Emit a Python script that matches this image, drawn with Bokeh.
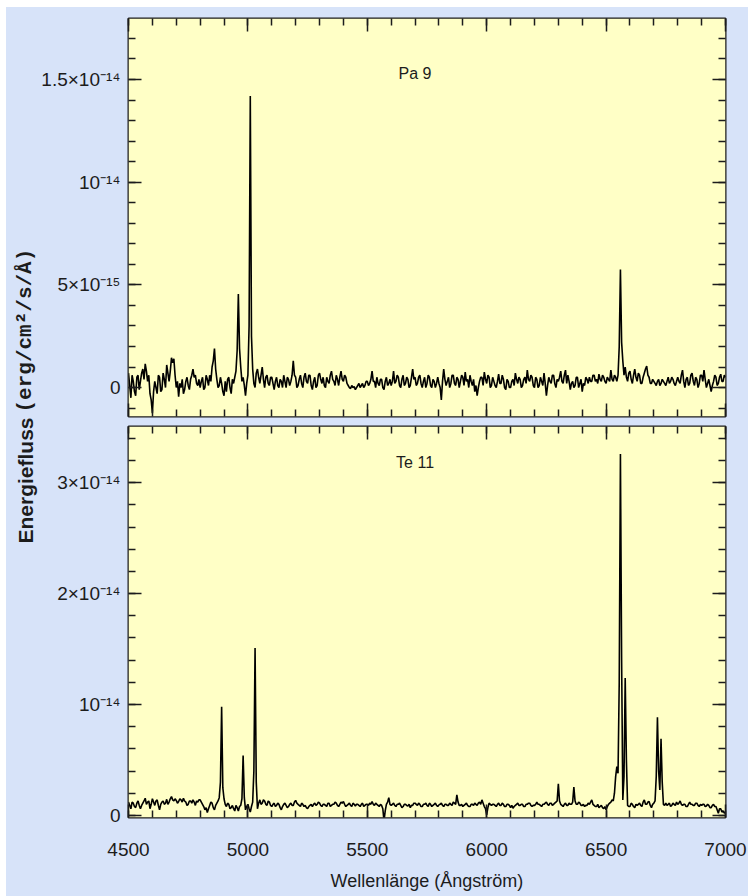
import numpy as np
from math import pi
from bokeh.plotting import figure
from bokeh.models import Range1d, FixedTicker, LinearAxis, CustomJSTickFormatter, BoxAnnotation
from bokeh.layouts import row, column
from bokeh.embed import file_html
from bokeh.resources import INLINE
from bokeh.core.properties import value

# ---------------- data ----------------
# wavelength grid (Angstrom), sampled every 5 A
wavelength = np.arange(4500, 7001, 5)

# Pa 9 spectrum, flux in units of 1e-15 erg/cm^2/s/A (one row = 100 A)
flux_pa9_e15 = [
    0.7, 0.1, -0.5, 0.6, 0.3, -0.2, -0.4, 0.5, 0.6, -0.1, 0.3, 0.7, 0.9, 0.4, 1.15, 0.8, 0.3, 0.6, -0.3, -0.6,      # 4500
    -1.25, -0.2, 0.3, 0.0, -0.3, 0.6, 0.5, -0.2, -0.1, 0.7, 0.4, 0.0, 1.1, 0.7, 0.3, 0.8, 1.45, 1.2, 1.4, 0.6,      # 4600
    0.0, 0.3, -0.45, 0.2, 0.0, 0.4, -0.3, -0.1, 0.3, 0.5, 0.1, -0.1, 0.4, 0.6, 0.9, 0.5, 0.6, 0.2, 0.1, 0.4,        # 4700
    0.0, 0.3, 0.5, -0.1, 0.0, 0.6, 0.4, 0.1, 0.6, 0.3, 1.0, 1.3, 1.9, 0.9, 0.4, 0.0, 0.1, 0.5, 0.2, -0.2,          # 4800
    -0.4, 0.3, -0.2, 0.4, 0.5, 0.0, -0.3, 0.4, 0.2, 0.5, 0.8, 1.8, 4.55, 1.9, 1.0, 0.3, 0.5, 0.1, -0.4, 0.2,       # 4900
    0.6, 3.0, 14.2, 2.5, 0.9, 0.2, 0.0, 0.7, 0.9, 0.5, 0.2, 0.6, 1.0, 0.4, 0.0, 0.5, 0.6, 0.2, 0.1, 0.5,           # 5000
    0.5, 0.2, -0.1, 0.3, 0.5, 0.1, 0.0, 0.4, 0.3, 0.0, 0.6, 0.3, 0.0, 0.5, 0.4, 0.1, 0.3, 0.6, 1.3, 0.6,           # 5100
    0.5, 0.0, 0.1, 0.4, 0.6, 0.2, 0.0, 0.5, 0.7, 0.3, 0.2, 0.6, 0.6, 0.1, -0.1, 0.3, 0.5, 0.0, 0.1, 0.6,           # 5200
    0.7, 0.4, 0.2, 0.5, 0.1, 0.0, 0.5, 0.3, 0.2, 0.6, 0.8, 0.4, 0.3, 0.1, 0.6, 0.4, 0.1, 0.5, 0.8, 0.4,            # 5300
    0.3, 0.6, 0.5, 0.2, 0.1, 0.0, -0.05, 0.1, 0.0, 0.05, -0.1, 0.0, 0.1, 0.2, 0.0, 0.1, 0.2, 0.0, 0.1, 0.3,        # 5400
    0.3, 0.1, 0.2, 0.4, 0.8, 0.3, 0.3, 0.0, 0.5, 0.2, 0.1, 0.4, 0.4, 0.0, -0.1, 0.3, 0.5, 0.1, 0.2, 0.4,           # 5500
    0.1, 0.3, 0.8, 0.2, 0.3, 0.6, 0.5, 0.1, 0.0, 0.4, 0.6, 0.1, 0.2, 0.5, 0.4, 0.0, 0.1, 0.5, 0.9, 0.4,            # 5600
    0.5, 0.1, 0.2, 0.5, 0.6, 0.2, 0.0, 0.3, 0.5, 0.0, 0.2, 0.6, 0.5, 0.1, 0.0, 0.4, 0.3, 0.0, 0.2, 0.5,            # 5700
    0.2, 0.0, -0.6, 0.3, 0.9, 0.4, 0.1, 0.3, 0.5, 0.0, 0.2, 0.6, 0.6, 0.2, 0.1, 0.5, 0.4, 0.0, 0.3, 0.6,           # 5800
    0.5, 0.1, 0.75, 0.3, 0.4, 0.0, 0.6, 0.3, 0.1, 0.4, -0.2, 0.1, -0.4, 0.0, 0.3, 0.5, 0.5, 0.1, 0.75, 0.4,        # 5900
    0.2, 0.6, 0.5, 0.0, 0.1, 0.5, 0.3, 0.1, 0.0, 0.3, 0.65, 0.2, 0.2, 0.6, 0.4, 0.0, -0.1, 0.4, 0.3, 0.0,          # 6000
    0.0, 0.3, 0.4, 0.1, 0.7, 0.4, 0.2, 0.5, 0.4, 0.0, 0.1, 0.4, 0.5, 0.2, 0.85, 0.4, 0.3, 0.6, 0.5, 0.1,           # 6100
    0.0, 0.5, 0.4, 0.0, 0.1, 0.5, 0.3, 0.1, 0.7, 0.2, -0.4, 0.1, 0.5, 0.3, 0.2, 0.6, 0.6, 0.2, 0.0, 0.4,           # 6200
    0.3, 0.5, 0.8, 0.3, 0.2, 0.6, 0.85, 0.2, 0.6, 0.3, -0.1, 0.2, 0.3, 0.0, 0.1, 0.5, 0.5, 0.0, 0.2, 0.4,          # 6300
    -0.2, 0.2, 0.1, 0.5, 0.4, 0.2, 0.5, 0.3, 0.3, 0.6, 0.6, 0.3, 0.4, 0.2, 0.65, 0.4, 0.3, 0.6, 0.5, 0.3,          # 6400
    0.2, 0.5, 0.4, 0.3, 0.85, 0.4, 0.3, 0.6, 0.5, 0.3, 0.6, 2.0, 5.75, 2.2, 1.3, 0.6, 1.0, 0.5, 0.3, 0.7,          # 6500
    0.8, 0.4, 0.2, 0.6, 0.9, 0.5, 0.3, 0.7, 0.6, 0.2, 0.2, 0.5, 0.7, 0.9, 1.05, 0.6, 0.5, 0.2, 0.2, 0.4,           # 6600
    0.3, 0.2, 0.1, 0.3, 0.4, 0.1, 0.2, 0.4, 0.3, 0.2, 0.1, 0.3, 0.5, 0.2, 0.3, 0.5, 0.4, 0.2, 0.1, 0.3,            # 6700
    0.5, 0.3, 0.2, 0.6, 0.85, 0.3, 0.0, 0.4, 0.5, 0.1, 0.2, 0.6, 0.7, 0.3, 0.1, 0.5, 0.4, 0.0, 0.2, 0.6,           # 6800
    0.6, 0.3, 0.85, 0.4, 0.0, 0.2, 0.4, 0.1, -0.2, 0.1, 0.3, 0.6, 0.5, 0.1, 0.2, 0.5, 0.65, 0.3, 0.3, 0.6,         # 6900
    0.5,                                                                                                       # 7000
]

# Te 11 spectrum, flux in units of 1e-15 erg/cm^2/s/A (one row = 100 A)
flux_te11_e15 = [
    1.2, 0.9, 0.6, 1.2, 1.1, 0.8, 0.7, 1.1, 1.3, 0.9, 0.6, 0.9, 1.1, 1.3, 1.55, 1.0, 1.2, 1.3, 0.6, 1.0,           # 4500
    1.5, 1.2, 0.9, 1.3, 1.4, 0.9, 0.5, 1.0, 1.2, 1.3, 1.0, 1.1, 1.45, 1.0, 1.2, 1.5, 1.7, 1.4, 1.3, 1.5,           # 4600
    1.35, 1.1, 1.25, 1.5, 1.4, 1.2, 1.55, 1.3, 1.2, 0.9, 1.0, 1.3, 1.3, 1.1, 1.4, 1.2, 0.9, 1.3, 1.2, 1.4,         # 4700
    1.4, 1.2, 1.0, 0.8, 0.5, 0.7, 0.25, 0.6, 0.9, 1.2, 1.1, 0.7, 0.5, 0.9, 1.1, 1.3, 1.6, 3.0, 9.8, 2.5,           # 4800
    1.5, 1.0, 0.8, 1.1, 1.0, 0.6, 0.7, 0.9, 0.6, 0.4, 0.9, 0.7, 0.4, 0.8, 0.9, 1.5, 5.4, 1.6, 0.5, 0.8,            # 4900
    1.0, 0.6, 0.3, 0.8, 1.2, 4.0, 15.1, 3.0, 0.6, 1.1, 1.4, 1.0, 1.1, 1.4, 1.3, 1.0, 0.9, 1.3, 1.2, 0.9,           # 5000
    0.8, 1.0, 1.1, 0.8, 0.9, 1.1, 1.0, 0.7, 0.5, 0.8, 1.0, 1.1, 0.9, 0.7, 0.8, 1.0, 1.1, 0.9, 0.9, 1.2,            # 5100
    1.35, 1.1, 1.0, 0.9, 0.8, 1.1, 1.0, 0.8, 0.9, 0.7, 0.6, 0.8, 0.9, 1.0, 0.8, 1.0, 1.1, 0.9, 1.0, 1.2,           # 5200
    1.1, 0.9, 0.8, 1.0, 1.0, 0.9, 0.8, 1.1, 1.1, 0.8, 0.9, 1.0, 1.0, 1.2, 1.1, 0.9, 0.8, 1.0, 1.2, 1.1,            # 5300
    1.25, 1.0, 0.8, 0.9, 1.0, 1.1, 0.9, 0.8, 1.1, 1.0, 0.85, 1.0, 1.0, 0.9, 0.8, 1.0, 1.1, 0.8, 0.9, 1.0,          # 5400
    1.0, 0.9, 1.1, 1.0, 1.25, 1.0, 0.9, 1.1, 1.0, 0.9, 0.8, 1.0, 0.9, 0.6, -0.5, 0.4, 1.0, 1.2, 1.6, 1.0,          # 5500
    0.9, 1.0, 1.1, 0.9, 0.8, 1.0, 1.0, 1.1, 0.9, 0.7, 0.8, 1.0, 1.0, 0.9, 0.85, 1.0, 0.7, 0.9, 0.9, 1.1,           # 5600
    1.1, 1.0, 0.9, 1.1, 1.0, 0.8, 0.8, 1.0, 1.0, 1.1, 0.9, 0.8, 1.1, 1.0, 0.8, 0.9, 1.0, 1.1, 0.9, 0.8,            # 5700
    0.95, 1.0, 1.1, 0.9, 0.8, 1.0, 1.0, 0.9, 0.9, 1.1, 1.0, 0.9, 1.2, 1.1, 1.0, 1.85, 1.2, 0.9, 0.9, 1.0,          # 5800
    0.8, 0.9, 1.0, 1.1, 0.9, 0.8, 0.8, 1.0, 1.0, 0.9, 1.1, 1.0, 0.9, 1.1, 1.2, 1.0, 1.4, 1.1, 0.8, 0.6,            # 5900
    0.05, 0.7, 1.1, 1.0, 0.9, 1.0, 1.0, 0.9, 0.8, 1.0, 1.1, 0.9, 0.9, 1.1, 1.0, 0.8, 0.8, 1.0, 1.0, 0.9,           # 6000
    0.7, 0.9, 0.65, 0.8, 0.9, 1.0, 1.1, 0.9, 0.9, 1.0, 1.0, 0.8, 0.8, 1.0, 1.0, 1.1, 1.1, 0.9, 0.8, 0.9,           # 6100
    0.9, 1.0, 1.2, 1.0, 1.0, 0.9, 0.8, 1.0, 1.0, 1.1, 1.2, 1.0, 0.9, 1.1, 1.1, 0.9, 1.0, 1.1, 1.2, 1.3,            # 6200
    2.85, 1.3, 1.0, 0.9, 0.8, 1.0, 1.1, 0.9, 0.9, 1.1, 1.0, 1.0, 1.2, 2.55, 1.3, 1.0, 1.0, 1.2, 1.1, 0.9,          # 6300
    0.9, 1.0, 0.8, 0.9, 0.9, 1.1, 1.0, 1.2, 1.4, 1.0, 0.9, 0.8, 0.8, 1.0, 0.7, 0.8, 0.9, 0.7, 0.6, 0.8,            # 6400
    0.5, 0.8, 1.0, 1.1, 1.2, 1.4, 1.3, 2.0, 3.5, 4.4, 3.8, 12.0, 32.6, 14.0, 1.4, 3.5, 12.4, 5.0, 0.9, 0.8,        # 6500
    0.8, 1.1, 1.0, 0.8, 0.7, 1.0, 0.9, 1.0, 1.1, 0.9, 0.8, 1.2, 1.4, 1.0, 1.0, 1.2, 1.25, 0.9, 0.7, 1.0,           # 6600
    1.1, 1.3, 3.5, 8.85, 4.0, 2.3, 6.9, 3.0, 1.0, 0.9, 1.1, 0.9, 1.0, 1.1, 0.8, 0.9, 1.1, 1.0, 0.9, 1.2,           # 6700
    1.0, 1.1, 1.3, 1.0, 0.9, 1.0, 1.0, 0.8, 0.8, 1.0, 1.2, 1.0, 1.0, 0.9, 0.9, 1.1, 1.1, 0.9, 0.8, 1.0,            # 6800
    0.9, 1.0, 1.0, 0.8, 0.85, 1.0, 0.9, 0.7, 0.7, 0.9, 1.0, 0.8, 0.8, 0.5, 0.2, 0.6, 0.6, 0.3, 0.4, 0.2,           # 6900
    0.3,                                                                                                       # 7000
]

assert len(flux_pa9_e15) == len(wavelength) == len(flux_te11_e15)

UNIT = 1e-15
flux_pa9 = np.array(flux_pa9_e15) * UNIT
flux_te11 = np.array(flux_te11_e15) * UNIT

x_major_ticks = [4500, 5000, 5500, 6000, 6500, 7000]
x_minor_ticks = list(range(4500, 7001, 100))

pa9_major_ticks = [0.0, 5e-15, 1e-14, 1.5e-14]
pa9_tick_labels = ["0", "5×10⁻¹⁵", "10⁻¹⁴", "1.5×10⁻¹⁴"]
pa9_minor_ticks = [i * 1e-15 for i in range(-1, 18)]

te11_major_ticks = [0.0, 1e-14, 2e-14, 3e-14]
te11_tick_labels = ["0", "10⁻¹⁴", "2×10⁻¹⁴", "3×10⁻¹⁴"]
te11_minor_ticks = [i * 2e-15 for i in range(0, 18)]

panel_names = ["Pa 9", "Te 11"]

# ---------------- style ----------------
BLUE = "#d7e3f9"
YELLOW = "#ffffc6"
INK = "#1c1c1c"
FONT = "Liberation Sans"

X_RANGE = (4500, 7000)
PA9_YRANGE = (-1.41e-15, 1.797e-14)
TE11_YRANGE = (-1.9e-16, 3.507e-14)


def label_formatter(ticks, labels):
    return CustomJSTickFormatter(args=dict(vals=ticks, labs=labels), code="""
        for (let i = 0; i < vals.length; i++) {
            if (Math.abs(tick - vals[i]) < 1e-18) { return labs[i]; }
        }
        return "";
    """)


def blank_formatter():
    return CustomJSTickFormatter(code='return "";')


def style_axis(ax, show_labels):
    ax.axis_line_color = None
    ax.major_tick_in = 13
    ax.major_tick_out = 0
    ax.minor_tick_in = 7
    ax.minor_tick_out = 0
    ax.major_tick_line_color = INK
    ax.minor_tick_line_color = INK
    ax.major_tick_line_width = 1.5
    ax.minor_tick_line_width = 1.5
    if show_labels:
        ax.major_label_text_font = FONT
        ax.major_label_text_font_size = "19px"
        ax.major_label_text_color = INK
    else:
        ax.formatter = blank_formatter()
        ax.major_label_text_font_size = "1px"
        ax.major_label_standoff = 0


def make_panel(flux, yrange, yticks, yminor, ylabels, name, name_y,
               height, border_top, border_bottom, show_x_labels):
    p = figure(width=710, height=height,
               x_range=Range1d(*X_RANGE), y_range=Range1d(*yrange),
               x_axis_type=None, y_axis_type=None,
               output_backend="svg", toolbar_location=None,
               min_border_left=89, min_border_right=23,
               min_border_top=border_top, min_border_bottom=border_bottom,
               background_fill_color=None, border_fill_color=BLUE,
               outline_line_color=INK, outline_line_width=2)

    # yellow plotting area, drawn beneath everything else
    p.add_layout(BoxAnnotation(fill_color=YELLOW, fill_alpha=1.0,
                               line_color=None, level="image"))

    xt = FixedTicker(ticks=x_major_ticks, minor_ticks=x_minor_ticks)
    yt = FixedTicker(ticks=yticks, minor_ticks=yminor)

    left = LinearAxis(ticker=yt, formatter=label_formatter(yticks, ylabels))
    style_axis(left, True)
    left.major_label_standoff = 8
    p.add_layout(left, "left")

    right = LinearAxis(ticker=yt)
    style_axis(right, False)
    p.add_layout(right, "right")

    above = LinearAxis(ticker=xt)
    style_axis(above, False)
    p.add_layout(above, "above")

    below = LinearAxis(ticker=xt)
    if show_x_labels:
        style_axis(below, True)
        below.major_label_standoff = 25
        below.axis_label = "Wellenlänge (Ångström)"
        below.axis_label_text_font = FONT
        below.axis_label_text_font_style = "normal"
        below.axis_label_text_font_size = "18px"
        below.axis_label_text_color = INK
        below.axis_label_standoff = 12
    else:
        style_axis(below, False)
    p.add_layout(below, "below")

    p.line(wavelength, flux, line_color="black", line_width=1.6)
    p.text(x=[5700], y=[name_y], text=[name], text_align="center",
           text_baseline="middle", text_font=value(FONT),
           text_font_size="16px", text_color=INK)
    return p


top = make_panel(flux_pa9, PA9_YRANGE, pa9_major_ticks, pa9_minor_ticks,
                 pa9_tick_labels, panel_names[0], 15.3e-15,
                 height=414, border_top=11, border_bottom=5, show_x_labels=False)
bot = make_panel(flux_te11, TE11_YRANGE, te11_major_ticks, te11_minor_ticks,
                 te11_tick_labels, panel_names[1], 31.8e-15,
                 height=475, border_top=5, border_bottom=79, show_x_labels=True)

# shared y-axis title in a narrow strip on the left (page y = 896 - data y)
lab = figure(width=32, height=889, x_range=Range1d(0, 32), y_range=Range1d(0, 889),
             x_axis_type=None, y_axis_type=None, output_backend="svg",
             toolbar_location=None, min_border=0,
             background_fill_color=BLUE, border_fill_color=BLUE,
             outline_line_color=None)
lab.text(x=[19], y=[896 - 417], text=["Energiefluss"], angle=pi / 2,
         text_align="right", text_baseline="middle", text_font=value(FONT),
         text_font_style="bold", text_font_size="21px", text_color=INK)
lab.text(x=[19], y=[896 - 412], text=["(erg/cm²/s/Å)"], angle=pi / 2,
         text_align="left", text_baseline="middle",
         text_font=value("Liberation Mono"),
         text_font_style="bold", text_font_size="21px", text_color=INK)

layout = row(lab, column(top, bot, spacing=0), spacing=0,
             margin=(7, 0, 0, 6), styles={"background-color": BLUE})

open("out.html", "w").write(file_html(layout, INLINE))
